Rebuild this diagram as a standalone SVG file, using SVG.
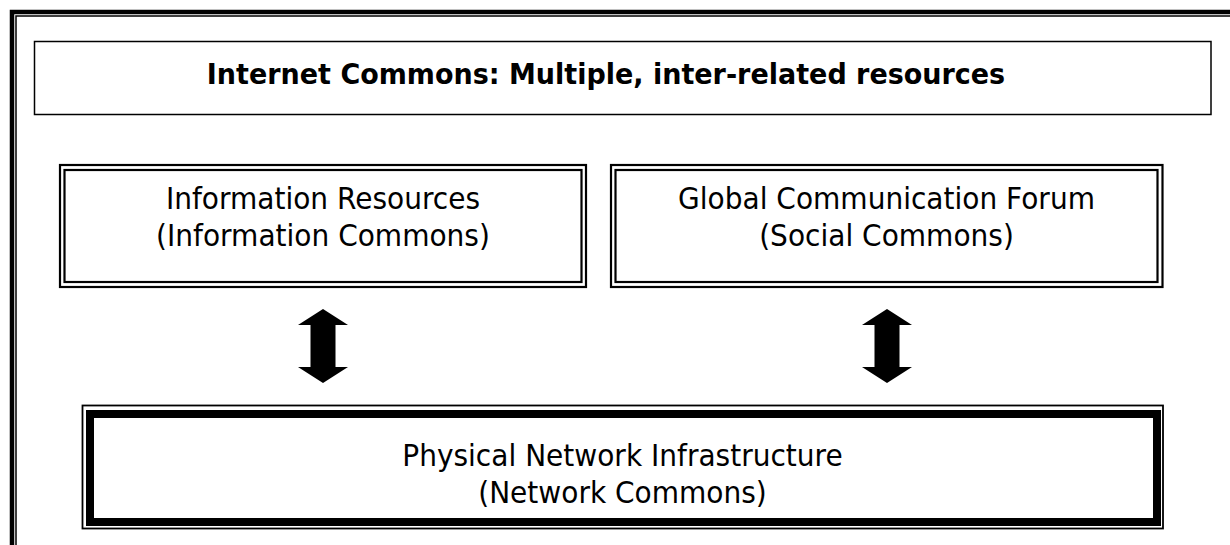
<svg xmlns="http://www.w3.org/2000/svg" width="1230" height="545" viewBox="0 0 1230 545">
  <style>
    .lbl { font-family: "DejaVu Sans", Verdana, sans-serif; font-size: 29.5px; fill: #000; text-anchor: middle; }
    .title { font-family: "DejaVu Sans", Verdana, sans-serif; font-size: 28.5px; font-weight: bold; fill: #000; text-anchor: middle; }
    .line { fill: none; stroke: #000; }
    .arrow { fill: #000; stroke: none; }
  </style>
  <defs>
    <!-- double-headed block arrow, centred on x=0, tips at y=0 and y=74 -->
    <path id="dblArrow" d="M0,0 L25,16 L12.5,16 L12.5,58 L25,58 L0,74 L-25,58 L-12.5,58 L-12.5,16 L-25,16 Z"/>
  </defs>

  <rect width="1230" height="545" fill="#fff"/>

  <!-- page frame: thick outer rule plus thin inner rule, open to the right and bottom -->
  <g id="frame">
    <path class="line" d="M12,545 V12 H1230" stroke-width="4.5"/>
    <path class="line" d="M16,545 V16 H1230" stroke-width="1.5" stroke="#333"/>
  </g>

  <g id="title">
    <rect class="line" x="34.5" y="41.5" width="1176.5" height="73" stroke-width="1.5"/>
    <text class="title" transform="translate(606,84) scale(0.947,1)">Internet Commons: Multiple, inter-related resources</text>
  </g>

  <g id="information">
    <rect class="line" x="60" y="165" width="526" height="122" stroke-width="2.2"/>
    <rect class="line" x="64.5" y="170" width="517" height="112" stroke-width="2.2"/>
    <text class="lbl" transform="translate(323,209) scale(0.95,1)">Information Resources</text>
    <text class="lbl" transform="translate(323,246) scale(0.95,1)">(Information Commons)</text>
  </g>

  <g id="communication">
    <rect class="line" x="611" y="165" width="551.5" height="122" stroke-width="2.2"/>
    <rect class="line" x="615.5" y="170" width="542" height="112" stroke-width="2.2"/>
    <text class="lbl" transform="translate(886.5,209) scale(0.95,1)">Global Communication Forum</text>
    <text class="lbl" transform="translate(886.5,246) scale(0.95,1)">(Social Commons)</text>
  </g>

  <g id="network">
    <rect class="line" x="82.5" y="405.5" width="1080.5" height="123" stroke-width="1.8"/>
    <rect class="line" x="90" y="414" width="1067" height="108" stroke-width="8"/>
    <text class="lbl" transform="translate(622.5,466) scale(0.95,1)">Physical Network Infrastructure</text>
    <text class="lbl" transform="translate(622.5,503) scale(0.95,1)">(Network Commons)</text>
  </g>

  <g id="connectors">
    <use href="#dblArrow" class="arrow" x="323" y="309"/>
    <use href="#dblArrow" class="arrow" x="887" y="309"/>
  </g>
</svg>
